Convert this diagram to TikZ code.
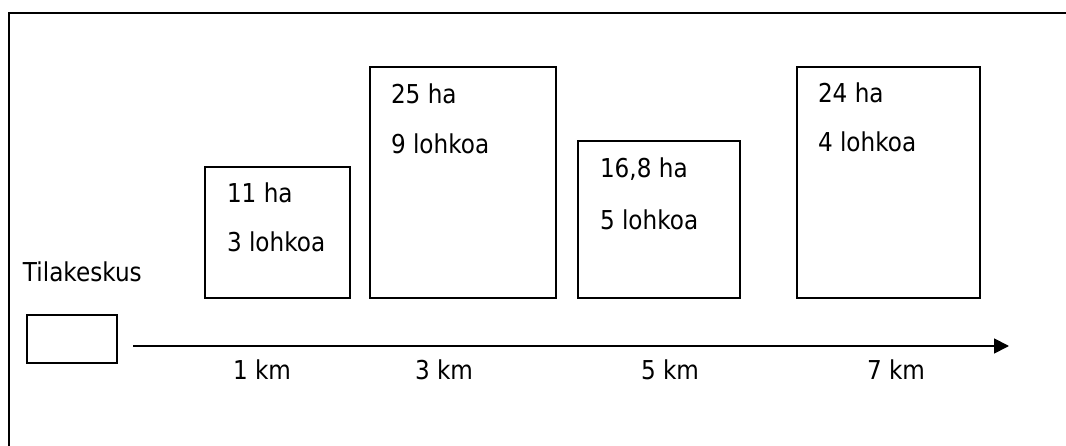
\documentclass[tikz,border=0pt]{standalone}
\usepackage{fontspec}
\setmainfont{DejaVu Sans}[FakeStretch=0.89]
\usetikzlibrary{arrows.meta}
\begin{document}
\begin{tikzpicture}[x=1pt,y=-1pt,
  every node/.style={inner sep=0pt,outer sep=0pt},
  field/.style={draw,line width=1.8pt},
  lbl/.style={anchor=base west,font=\fontsize{26}{31}\selectfont}]
\useasboundingbox (0,0) rectangle (1066,446);
\begin{scope}
  \clip (0,0) rectangle (1066,446);
  \draw[line width=2.2pt] (9,13) rectangle (1080,460);
\end{scope}
% fields along the road
\draw[field] (205,167) rectangle (350,298);
\draw[field] (370,67) rectangle (556,298);
\draw[field] (578,141) rectangle (740,298);
\draw[field] (797,67) rectangle (980,298);
% farm centre
\node[field,minimum width=90pt,minimum height=48pt,anchor=north west] (centre) at (27,315) {};
\node[lbl] (tk) at (23,282) {Tilakeskus};
% distance axis
\coordinate (a0) at (133,346);
\coordinate (a1) at (1009,346);
\draw[line width=1.8pt,-{Triangle[length=15pt,width=15pt]}] (a0) -- (a1);
% field texts
\node[lbl] (f1a) at (227,203) {11 ha};
\node[lbl] (f1b) at (227,252) {3 lohkoa};
\node[lbl] (f2a) at (391,104) {25 ha};
\node[lbl] (f2b) at (391,154) {9 lohkoa};
\node[lbl] (f3a) at (600,178) {16,8 ha};
\node[lbl] (f3b) at (600,230) {5 lohkoa};
\node[lbl] (f4a) at (818,103) {24 ha};
\node[lbl] (f4b) at (818,152) {4 lohkoa};
% distances
\node[lbl] (d1) at (233,379) {1 km};
\node[lbl] (d3) at (415,379) {3 km};
\node[lbl] (d5) at (641,379) {5 km};
\node[lbl] (d7) at (867,379) {7 km};
\end{tikzpicture}
\end{document}
